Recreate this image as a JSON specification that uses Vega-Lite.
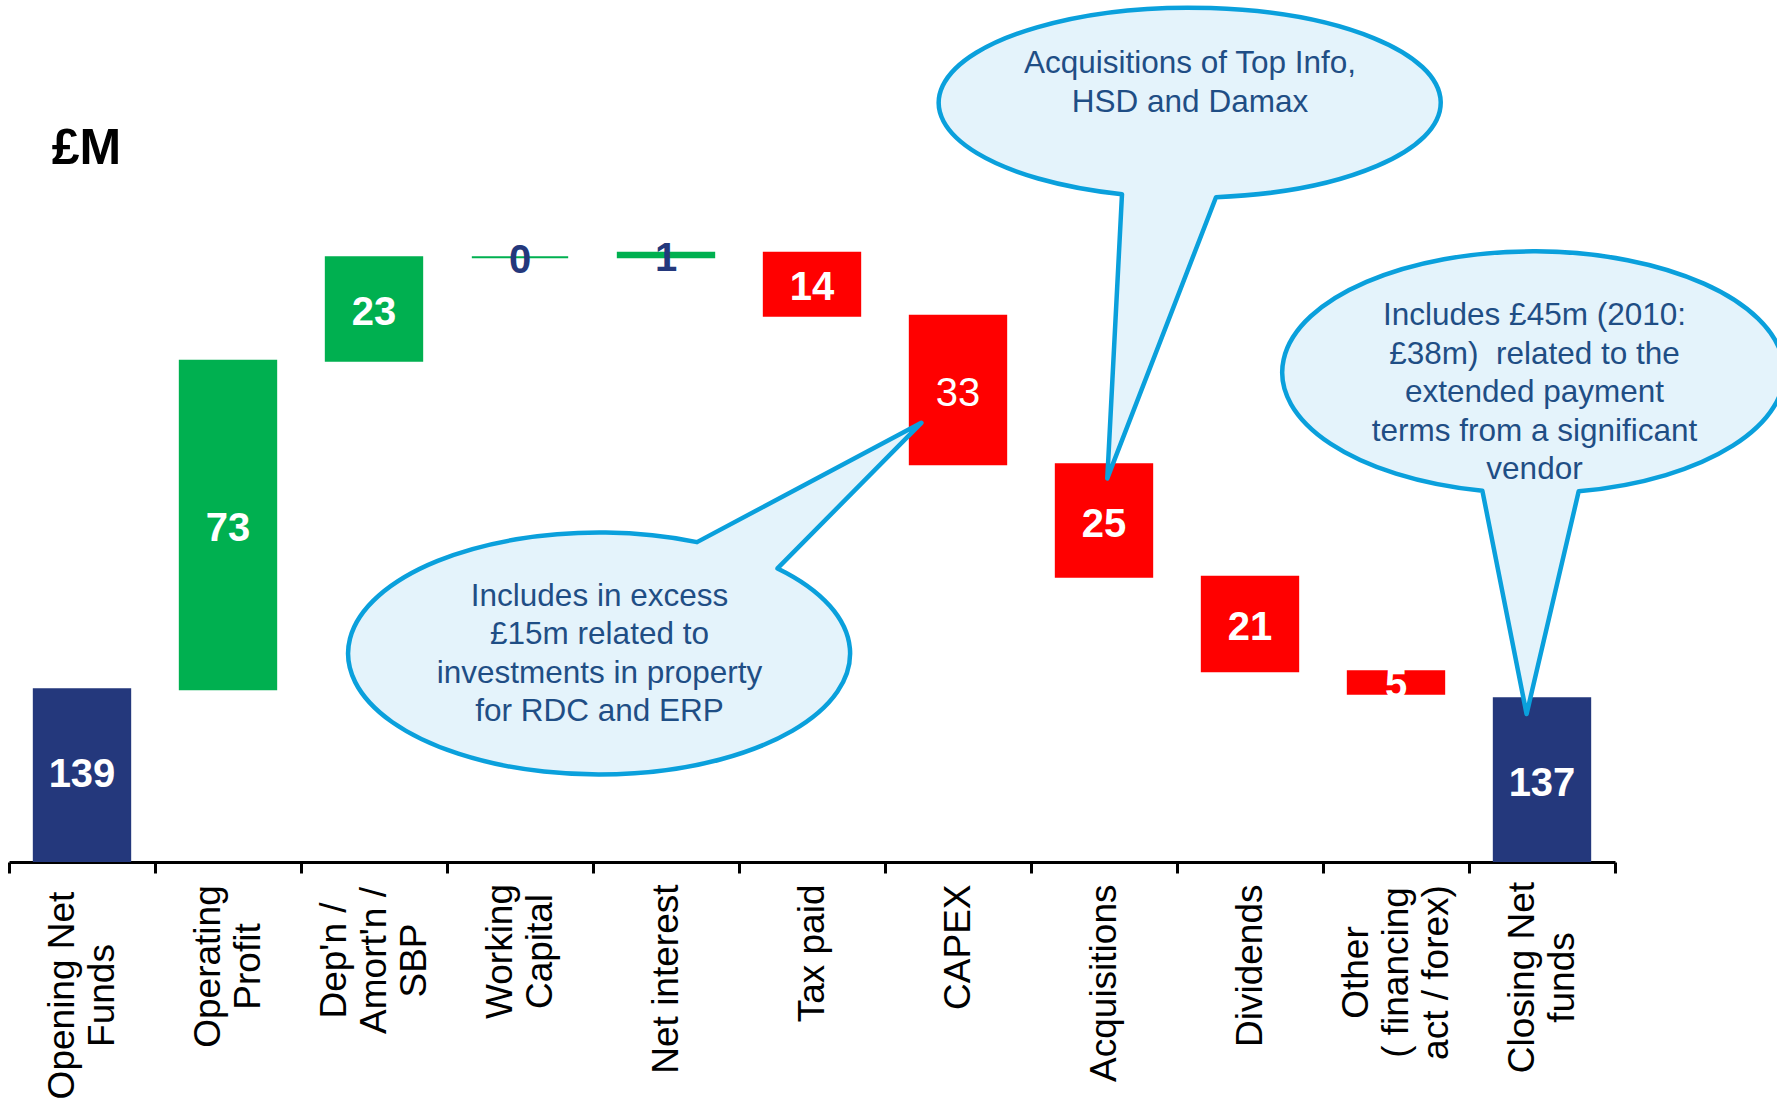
{
  "$schema": "https://vega.github.io/schema/vega-lite/v6.json",
  "width": 1606,
  "height": 862,
  "autosize": {"type": "none"},
  "padding": {"left": 9, "top": 0, "right": 162, "bottom": 248},
  "background": "white",
  "config": {
    "view": {"stroke": null},
    "font": "Liberation Sans",
    "axisY": {"domain": false, "ticks": false, "labels": false, "grid": false, "titleAngle": 0, "titleX": 77, "titleY": 148, "titleAlign": "center", "titleBaseline": "middle", "titleFontSize": 50, "titleFontWeight": "bold", "titleColor": "black", "titleFont": "Liberation Sans"}
  },
  "data": {"values": [
    {"cat": "Opening Net\nFunds", "kind": "total", "start": 0, "end": 139, "amount": 139},
    {"cat": "Operating\nProfit", "kind": "up", "start": 139, "end": 212, "amount": 73},
    {"cat": "Dep'n /\nAmort'n /\nSBP", "kind": "up", "start": 212, "end": 235, "amount": 23},
    {"cat": "Working\nCapital", "kind": "up", "start": 235, "end": 235, "amount": 0},
    {"cat": "Net interest", "kind": "up", "start": 235, "end": 236, "amount": 1},
    {"cat": "Tax paid", "kind": "down", "start": 236, "end": 222, "amount": 14},
    {"cat": "CAPEX", "kind": "down", "start": 222, "end": 189, "amount": 33, "note": "Includes in excess\n£15m related to\ninvestments in property\nfor RDC and ERP"},
    {"cat": "Acquisitions", "kind": "down", "start": 189, "end": 164, "amount": 25, "note": "Acquisitions of Top Info,\nHSD and Damax"},
    {"cat": "Dividends", "kind": "down", "start": 164, "end": 143, "amount": 21},
    {"cat": "Other\n( financing\nact / forex)", "kind": "down", "start": 143, "end": 138, "amount": 5},
    {"cat": "Closing Net\nfunds", "kind": "total", "start": 0, "end": 137, "amount": 137, "note": "Includes £45m (2010:\n£38m)\u00a0 related to the\nextended payment\nterms from a significant\nvendor"}
  ]},
  "encoding": {
    "x": {
      "field": "cat", "type": "nominal", "sort": null,
      "scale": {"domain": ["Opening Net\nFunds", "Operating\nProfit", "Dep'n /\nAmort'n /\nSBP", "Working\nCapital", "Net interest", "Tax paid", "CAPEX", "Acquisitions", "Dividends", "Other\n( financing\nact / forex)", "Closing Net\nfunds"], "paddingInner": 0, "paddingOuter": 0},
      "axis": {
        "title": null,
        "labelExpr": "split(datum.label, '\\n')",
        "labelAngle": -90,
        "labelAlign": {"expr": "length(split(datum.value, '\\n')) > 1 ? 'center' : 'right'"},
        "labelBaseline": "middle",
        "labelOffset": {"expr": "-(length(split(datum.value, '\\n')) - 1) * 20"},
        "labelPadding": {"expr": "length(split(datum.value, '\\n')) > 1 ? (split(datum.value, '\\n')[0] == 'Opening Net' ? 122 : split(datum.value, '\\n')[0] == 'Operating' ? 93 : split(datum.value, '\\n')[0] == 'Working' ? 78 : split(datum.value, '\\n')[0] == 'Other' ? 99 : split(datum.value, '\\n')[0] == 'Closing Net' ? 104 : 87) : 11"},
        "labelFontSize": 37, "labelFont": "Liberation Sans", "labelLineHeight": 40, "labelColor": "black", "labelLimit": 0, "labelOverlap": false,
        "tickBand": "extent", "tickSize": 11, "tickWidth": 3, "tickColor": "black", "domainColor": "black", "domainWidth": 3, "grid": false
      }
    }
  },
  "layer": [
    {
      "mark": {"type": "bar", "width": {"band": 0.66}, "clip": true, "strokeWidth": 2},
      "encoding": {
        "y": {"field": "start", "type": "quantitative", "title": "£M", "scale": {"domain": [100.6, 292.2], "nice": false, "zero": false}},
        "y2": {"field": "end"},
        "color": {"field": "kind", "type": "nominal", "scale": {"domain": ["total", "up", "down"], "range": ["#24387C", "#00B050", "#FF0000"]}, "legend": null},
        "stroke": {"field": "kind", "type": "nominal", "scale": {"domain": ["total", "up", "down"], "range": ["#24387C", "#00B050", "#FF0000"]}, "legend": null}
      }
    },
    {
      "transform": [
        {"filter": "datum.kind != 'total'"},
        {"fold": ["start", "end"], "as": ["edge", "v"]},
        {"aggregate": [{"op": "mean", "field": "v", "as": "mid"}], "groupby": ["cat", "amount"]}
      ],
      "layer": [
        {
          "transform": [{"filter": "datum.amount >= 2 && datum.cat != 'CAPEX'"}],
          "mark": {"type": "text", "fontSize": 40, "fontWeight": "bold", "color": "white", "align": "center", "baseline": "middle", "dy": 4},
          "encoding": {"y": {"field": "mid", "type": "quantitative", "title": "£M"}, "text": {"field": "amount", "type": "quantitative"}}
        },
        {
          "transform": [{"filter": "datum.cat == 'CAPEX'"}],
          "mark": {"type": "text", "fontSize": 40, "fontWeight": "normal", "color": "white", "align": "center", "baseline": "middle", "dy": 4},
          "encoding": {"y": {"field": "mid", "type": "quantitative", "title": "£M"}, "text": {"field": "amount", "type": "quantitative"}}
        },
        {
          "transform": [{"filter": "datum.amount < 2"}],
          "mark": {"type": "text", "fontSize": 40, "fontWeight": "bold", "color": "#24387C", "align": "center", "baseline": "middle", "dy": 4},
          "encoding": {"y": {"field": "mid", "type": "quantitative", "title": "£M"}, "text": {"field": "amount", "type": "quantitative"}}
        }
      ]
    },
    {
      "transform": [{"filter": "datum.kind == 'total'"}],
      "mark": {"type": "text", "fontSize": 40, "fontWeight": "bold", "color": "white", "align": "center", "baseline": "middle", "dy": 86},
      "encoding": {"y": {"field": "end", "type": "quantitative", "title": "£M"}, "text": {"field": "amount", "type": "quantitative"}}
    },
    {
      "transform": [{"filter": "datum.cat == 'Acquisitions'"}],
      "mark": {"type": "point", "shape": "M 18 -270.1 A 251 95 0 1 1 112 -267.1 L 3.3 14.1 Z", "size": 4, "filled": true, "fill": "#E4F3FB", "stroke": "#0AA0DC", "strokeWidth": 4.5, "opacity": 1, "strokeJoin": "round"},
      "encoding": {"y": {"field": "start", "type": "quantitative", "title": "£M"}}
    },
    {
      "transform": [{"filter": "datum.cat == 'CAPEX'"}],
      "mark": {"type": "point", "shape": "M -261 226.3 A 251 121 0 1 0 -180.5 252.6 L -36.6 107 Z", "size": 4, "filled": true, "fill": "#E4F3FB", "stroke": "#0AA0DC", "strokeWidth": 4.5, "opacity": 1, "strokeJoin": "round"},
      "encoding": {"y": {"field": "start", "type": "quantitative", "title": "£M"}}
    },
    {
      "transform": [{"filter": "datum.kind == 'total' && datum.amount == 137"}],
      "mark": {"type": "point", "shape": "M -59.6 -207.4 A 251 121 0 1 1 36.7 -206.9 L -15.4 15.8 Z", "size": 4, "filled": true, "fill": "#E4F3FB", "stroke": "#0AA0DC", "strokeWidth": 4.5, "opacity": 1, "strokeJoin": "round"},
      "encoding": {"y": {"field": "end", "type": "quantitative", "title": "£M"}}
    },
    {
      "transform": [{"filter": "datum.cat == 'Acquisitions'"}],
      "mark": {"type": "text", "lineBreak": "\n", "fontSize": 31.5, "color": "#1F4E85", "align": "center", "baseline": "middle", "lineHeight": 38.5, "dx": 86, "dy": -400},
      "encoding": {"y": {"field": "start", "type": "quantitative", "title": "£M"}, "text": {"field": "note", "type": "nominal"}}
    },
    {
      "transform": [{"filter": "datum.cat == 'CAPEX'"}],
      "mark": {"type": "text", "lineBreak": "\n", "fontSize": 31.5, "color": "#1F4E85", "align": "center", "baseline": "middle", "lineHeight": 38.5, "dx": -358.5, "dy": 281},
      "encoding": {"y": {"field": "start", "type": "quantitative", "title": "£M"}, "text": {"field": "note", "type": "nominal"}}
    },
    {
      "transform": [{"filter": "datum.kind == 'total' && datum.amount == 137"}],
      "mark": {"type": "text", "lineBreak": "\n", "fontSize": 31.5, "color": "#1F4E85", "align": "center", "baseline": "middle", "lineHeight": 38.5, "dx": -7.5, "dy": -382},
      "encoding": {"y": {"field": "end", "type": "quantitative", "title": "£M"}, "text": {"field": "note", "type": "nominal"}}
    }
  ]
}
